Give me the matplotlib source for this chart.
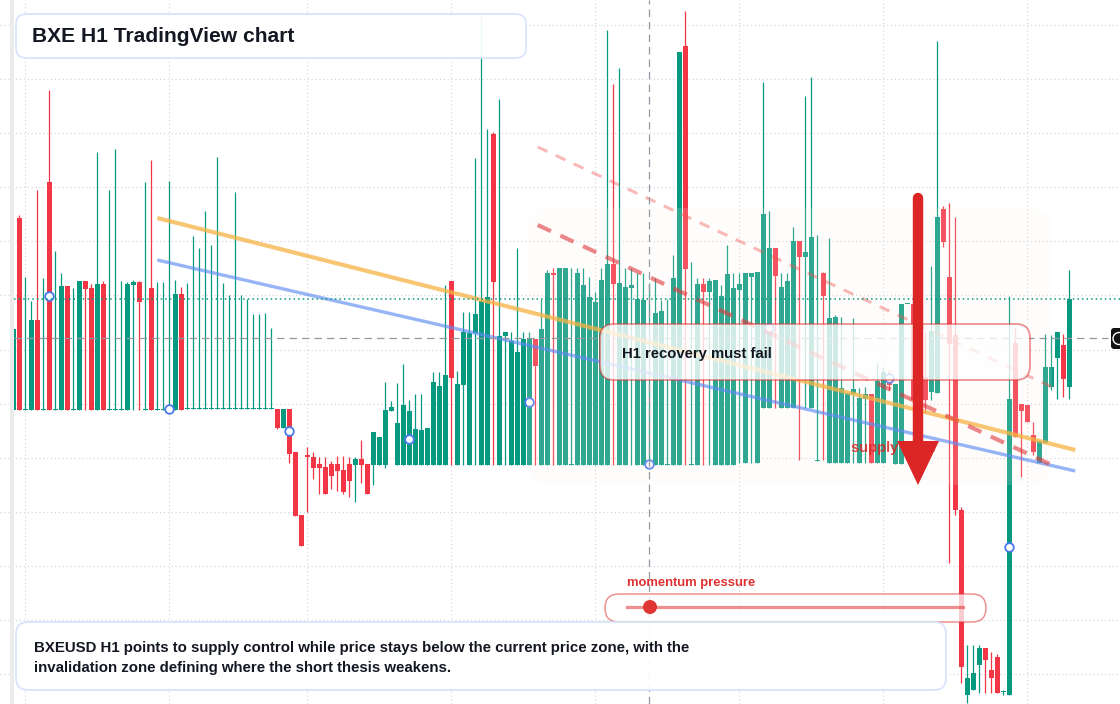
import numpy as np
import matplotlib
matplotlib.use('Agg')
import matplotlib.pyplot as plt
from matplotlib.patches import FancyBboxPatch, Polygon, Rectangle, Circle
from matplotlib.transforms import Affine2D

plt.rcParams['font.family'] = ['Liberation Sans', 'DejaVu Sans']

# H1 candles (price in chart points)
opens = [294, 486, 294, 294, 384, 294, 522, 294, 294, 418,
         294, 294, 423, 416, 294, 420, 294, 294, 294, 294,
         419, 422, 294, 416, 294, 294, 294, 294, 410, 295,
         295, 295, 295, 295, 295, 295, 295, 295, 295, 295,
         295, 295, 295, 295, 295, 276, 295, 252, 189, 249,
         247, 240, 237, 240, 240, 234, 240, 239, 245, 240,
         239, 239, 239, 293, 239, 239, 239, 239, 239, 239,
         239, 239, 239, 423, 239, 319, 239, 371, 239, 239,
         570, 239, 368, 239, 239, 239, 239, 365, 239, 239,
         431, 239, 239, 239, 239, 239, 239, 239, 239, 239,
         440, 239, 239, 416, 239, 239, 239, 239, 239, 239,
         239, 239, 658, 239, 239, 420, 412, 239, 239, 239,
         239, 414, 241, 427, 241, 296, 296, 456, 296, 296,
         296, 463, 447, 296, 243, 431, 241, 241, 241, 241,
         310, 241, 305, 310, 241, 241, 324, 240, 240, 400,
         400, 394, 327, 312, 311, 495, 427, 369, 194, 9,
         14, 39, 56, 34, 47, 12, 9, 361, 300, 299,
         269, 241, 261, 317, 346, 359, 317]
highs = [375, 489, 427, 403, 514, 426, 614, 453, 431, 418,
         416, 423, 423, 420, 552, 423, 514, 555, 423, 422,
         424, 423, 522, 544, 422, 422, 523, 424, 417, 421,
         468, 456, 493, 459, 547, 421, 409, 512, 409, 405,
         390, 390, 391, 376, 295, 295, 295, 252, 189, 257,
         252, 247, 247, 243, 248, 248, 247, 247, 264, 240,
         272, 267, 322, 303, 321, 340, 304, 310, 310, 276,
         332, 332, 419, 423, 333, 392, 392, 546, 687, 575,
         572, 605, 372, 372, 456, 372, 372, 365, 405, 434,
         436, 436, 436, 436, 436, 436, 427, 412, 436, 674,
         620, 636, 436, 436, 431, 431, 421, 426, 404, 405,
         449, 652, 693, 442, 426, 426, 426, 424, 419, 459,
         431, 431, 431, 431, 432, 622, 493, 456, 431, 431,
         477, 463, 608, 627, 469, 432, 466, 389, 387, 311,
         386, 316, 317, 310, 341, 337, 334, 320, 400, 400,
         400, 404, 372, 438, 663, 498, 501, 487, 197, 59,
         59, 59, 56, 52, 50, 14, 408, 376, 300, 299,
         282, 263, 370, 369, 372, 370, 434]
lows = [294, 294, 294, 294, 294, 294, 294, 294, 294, 294,
        294, 294, 294, 294, 294, 294, 294, 294, 294, 294,
        294, 294, 294, 294, 294, 294, 294, 294, 294, 295,
        295, 295, 295, 295, 295, 295, 295, 295, 295, 295,
        295, 295, 295, 295, 275, 276, 241, 188, 158, 192,
        225, 210, 210, 215, 213, 210, 207, 202, 221, 210,
        219, 239, 236, 293, 239, 239, 239, 239, 239, 239,
        239, 239, 239, 239, 239, 239, 239, 239, 239, 239,
        239, 239, 239, 239, 239, 239, 239, 239, 239, 239,
        239, 239, 239, 239, 239, 239, 239, 239, 239, 239,
        239, 239, 239, 239, 239, 239, 239, 239, 239, 239,
        239, 239, 239, 239, 239, 239, 239, 239, 239, 239,
        239, 241, 241, 241, 241, 296, 296, 296, 296, 296,
        296, 244, 296, 296, 243, 244, 241, 241, 241, 241,
        241, 241, 241, 241, 241, 241, 314, 240, 240, 400,
        304, 299, 291, 304, 311, 457, 141, 189, 21, 1,
        14, 11, 11, 11, 11, 9, 9, 267, 227, 282,
        249, 241, 261, 314, 305, 307, 305]
closes = [375, 294, 294, 384, 294, 294, 294, 294, 418, 294,
          294, 423, 415, 294, 420, 294, 294, 294, 294, 420,
          422, 402, 294, 294, 294, 294, 294, 410, 294, 295,
          295, 295, 295, 295, 295, 295, 295, 295, 295, 295,
          295, 295, 295, 295, 276, 295, 250, 188, 158, 247,
          236, 236, 210, 228, 233, 212, 223, 245, 239, 210,
          272, 267, 294, 297, 281, 299, 293, 275, 274, 276,
          322, 318, 329, 326, 320, 372, 371, 390, 403, 407,
          422, 368, 372, 363, 352, 365, 365, 338, 375, 431,
          429, 436, 436, 239, 431, 419, 407, 402, 424, 440,
          420, 421, 417, 419, 405, 404, 239, 391, 393, 239,
          426, 652, 435, 239, 420, 412, 423, 424, 408, 430,
          416, 420, 431, 431, 432, 490, 456, 428, 417, 423,
          463, 447, 452, 467, 243, 408, 386, 387, 316, 311,
          315, 306, 310, 241, 323, 332, 319, 320, 400, 400,
          304, 304, 304, 373, 487, 462, 360, 194, 37, 26,
          31, 56, 44, 26, 11, 12, 305, 267, 293, 282,
          252, 263, 337, 337, 372, 325, 405]

# blue dots of the overlay series
dot_idx = [6, 26, 46, 66, 86, 106, 126, 146, 166]
dot_vals = [408, 295, 273, 265, 302, 240, 376, 326, 157]

# drawn levels
line_x = [24, 177]
upper_trend = [486, 254]
lower_trend = [444, 233]
dash_x = [87.4, 173.1]
supply_dash = [479, 239]
supply_dash_light = [557, 317]
current_price = 405
cross_price = 366
cross_idx = 106
grid_prices = [679, 625, 571, 517, 463, 409, 354, 300, 246, 192, 138, 84, 30]
grid_idx = [2, 26, 49, 73, 97, 121, 145, 169]

GREEN = '#089981'
RED = '#f23645'

fig = plt.figure(figsize=(11.2, 7.04), dpi=100)
ax = fig.add_axes([0, 0, 1, 1])
xmin = -13.3 / 6
ax.set_xlim(xmin, xmin + 1120 / 6)
ax.set_ylim(0, 704)
ax.set_axis_off()

# pixel transform for the overlay boxes (top-left origin)
PX = Affine2D().scale(1, -1).translate(0, 704)

for gp in grid_prices:
    ax.axhline(gp, color='#cfd2d8', lw=0.8, ls=(0, (1, 2.5)), zorder=0.5)
for gi in grid_idx:
    ax.axvline(gi, color='#cfd2d8', lw=0.8, ls=(0, (1, 2.5)), zorder=0.5)

o = np.array(opens, dtype=float)
h = np.array(highs, dtype=float)
l = np.array(lows, dtype=float)
c = np.array(closes, dtype=float)
x = np.arange(len(o))
cols = np.where(c >= o, GREEN, RED)
ax.vlines(x, l, h, colors=cols, lw=0.9, zorder=2)
ax.bar(x, np.maximum(np.abs(c - o), 1.3), bottom=np.minimum(o, c), width=0.8,
       color=cols, linewidth=0, zorder=2.1)

ax.plot(dot_idx, dot_vals, ls='none', marker='o', ms=6.2, mfc='white', mec='#4a78ee',
        mew=1.3, zorder=2.3)

# zone overlay
zone = FancyBboxPatch((527, 208), 525, 277, boxstyle='round,pad=0,rounding_size=24',
                      transform=PX, fc='#fbf3ea', ec='none', alpha=0.16, zorder=2.5)
ax.add_patch(zone)

ax.plot(line_x, upper_trend, color='#f6b444', alpha=0.75, lw=3, zorder=3, solid_capstyle='butt')
ax.plot(line_x, lower_trend, color='#5f8cf2', alpha=0.65, lw=2.4, zorder=3, solid_capstyle='butt')
ax.plot(dash_x, supply_dash, color='#e0393e', alpha=0.6, lw=3, ls=(0, (3.5, 2.5)), zorder=3)
ax.plot(dash_x, supply_dash_light, color='#ef5350', alpha=0.4, lw=2.2, ls=(0, (3.5, 3)), zorder=3)

ax.axhline(current_price, xmin=14 / 1120, color=GREEN, lw=1.1, ls=(0, (1, 2)), zorder=4)
ax.axhline(cross_price, xmin=14 / 1120, xmax=1108 / 1120, color='#9598a1', lw=0.9,
           ls=(0, (6, 4)), zorder=4)
ax.axvline(cross_idx, color='#9598a1', lw=0.9, ls=(0, (6, 4)), zorder=4)

# left strip and crosshair label
ax.add_patch(Rectangle((10, 0), 4, 704, transform=PX, fc='#ebebeb', ec='none', zorder=9))
ax.add_patch(FancyBboxPatch((1111, 328), 14, 21, boxstyle='round,pad=0,rounding_size=3',
                            transform=PX, fc='#111111', ec='none', zorder=9))
ax.add_patch(Circle((1119, 338.5), 6, transform=PX, fc='none', ec='white', lw=1, zorder=9.1))

# recovery box
ax.add_patch(FancyBboxPatch((600, 324), 430, 56, boxstyle='round,pad=0,rounding_size=14',
                            transform=PX, fc=(1, 1, 1, 0.78), ec=(0.86, 0.15, 0.15, 0.5),
                            lw=1.3, zorder=5))
ax.text(622, 354, 'H1 recovery must fail', transform=PX, fontsize=10.7, fontweight='bold',
        color='#131722', va='center', ha='left', zorder=6)

# supply label and arrow
ax.text(851, 448, 'supply zone', transform=PX, fontsize=10.5, fontweight='bold',
        color='#dc2626', alpha=0.85, va='center', ha='left', zorder=6.5)
ax.plot([918, 918], [198, 445], transform=PX, color='#dc2626', lw=7.5,
        solid_capstyle='round', zorder=7)
ax.add_patch(Polygon([(897, 441), (939, 441), (918, 485)], closed=True, transform=PX,
                     fc='#dc2626', ec='none', zorder=7))

# momentum pill
ax.text(627, 583, 'momentum pressure', transform=PX, fontsize=9.4, fontweight='bold',
        color='#e03131', va='center', ha='left', zorder=6)
ax.add_patch(FancyBboxPatch((605, 594), 381, 28, boxstyle='round,pad=0,rounding_size=14',
                            transform=PX, fc=(1, 1, 1, 0.75), ec=(0.86, 0.15, 0.15, 0.5),
                            lw=1.1, zorder=5))
ax.plot([627, 963], [607, 607], transform=PX, color='#e03131', alpha=0.55, lw=2.3, zorder=5.5)
ax.add_patch(Circle((650, 607), 7, transform=PX, fc='#e03535', ec='none', zorder=5.6))

# title and summary boxes
ax.add_patch(FancyBboxPatch((16, 14), 510, 44, boxstyle='round,pad=0,rounding_size=10',
                            transform=PX, fc=(1, 1, 1, 0.93), ec='#d6e3fa', lw=1.2, zorder=8))
ax.text(32, 37, 'BXE H1 TradingView chart', transform=PX, fontsize=15.1, fontweight='bold',
        color='#131722', va='center', ha='left', zorder=8.5)
ax.add_patch(FancyBboxPatch((16, 622), 930, 68, boxstyle='round,pad=0,rounding_size=12',
                            transform=PX, fc=(1, 1, 1, 0.93), ec='#d6e3fa', lw=1.2, zorder=8))
ax.text(34, 648, 'BXEUSD H1 points to supply control while price stays below the current price zone, with the',
        transform=PX, fontsize=10.8, fontweight='bold', color='#131722', va='center', ha='left', zorder=8.5)
ax.text(34, 668, 'invalidation zone defining where the short thesis weakens.',
        transform=PX, fontsize=10.8, fontweight='bold', color='#131722', va='center', ha='left', zorder=8.5)

fig.savefig('out.png', dpi=100)
